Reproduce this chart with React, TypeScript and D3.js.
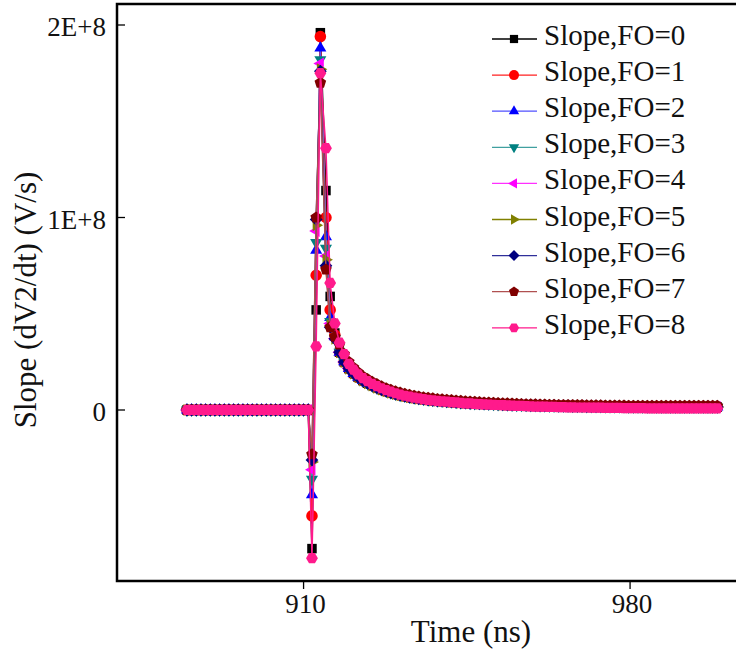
import React from 'react';
import * as d3 from 'd3';

// ---------- data ----------
const seriesNames = [
  'Slope,FO=0', 'Slope,FO=1', 'Slope,FO=2', 'Slope,FO=3', 'Slope,FO=4',
  'Slope,FO=5', 'Slope,FO=6', 'Slope,FO=7', 'Slope,FO=8',
];
const markerColors = ['#000000', '#ff0000', '#0000ff', '#008080', '#ff00ff', '#808000', '#000080', '#800000', '#ff1a8c'];
const lineColors = ['#000000', '#ff2020', '#5050ff', '#40a0a0', '#ff30ff', '#808000', '#30309a', '#b05050', '#ff1a8c'];
const markerKinds = ['square', 'circle', 'triUp', 'triDown', 'triLeft', 'triRight', 'diamond', 'pentagon', 'hexagon'];

// time samples (ns)
const flatTimes = [885, 886, 887, 888, 889, 890, 891, 892, 893, 894, 895, 896, 897, 898, 899, 900, 901, 902, 903, 904, 905, 906, 907, 908, 909, 910, 911];
const flatValues = [0, 0, 0, 0, 0, 0, 0, 0, 0, 0, 0, 0, 0, 0, 0, 0, 0, 0, 0, 0, 0, 0, 0, 0, 0, 0, 0];
const spikeTimes = [911.8, 912.7, 913.6, 914.8, 915.7, 916.7];
// spike values, units of 1e6 V/s
const spikeFO0 = [-72, 52, 196, 114, 59, 40];
const spikeFO1 = [-55, 70, 194, 100, 52, 39];
const spikeFO2 = [-44, 83, 188, 90, 48, 38];
const spikeFO3 = [-36, 87, 182, 84, 46, 37];
const spikeFO4 = [-31, 93, 180, 80, 45, 37];
const spikeFO5 = [-27, 96, 177, 78, 44, 37];
const spikeFO6 = [-26, 99, 176, 75, 43, 37];
const spikeFO7 = [-23, 100, 170, 73, 43, 38];
const spikeFO8 = [-77, 33, 175, 136, 66, 45];
const spikes = [spikeFO0, spikeFO1, spikeFO2, spikeFO3, spikeFO4, spikeFO5, spikeFO6, spikeFO7, spikeFO8];

// decay tail, 1 ns steps starting at 917.7 ns, units of 1e6 V/s
const tailStart = 917.7;
const tailOthers = [30, 25, 21.5, 19, 17, 15.3, 13.9, 12.7, 11.6, 10.6, 9.8, 9.0, 8.3, 7.7, 7.2, 6.7, 6.3, 5.9, 5.6, 5.3, 5.0, 4.8, 4.6, 4.4, 4.2, 4.0, 3.8, 3.7, 3.5, 3.4, 3.3, 3.2, 3.1, 3.0, 2.9, 2.8, 2.7, 2.6, 2.5, 2.5, 2.4, 2.3, 2.3, 2.2, 2.2, 2.1, 2.1, 2.0, 2.0, 2.0, 1.9, 1.9, 1.9, 1.8, 1.8, 1.8, 1.8, 1.7, 1.7, 1.7, 1.7, 1.7, 1.6, 1.6, 1.6, 1.6, 1.6, 1.6, 1.6, 1.5, 1.5, 1.5, 1.5, 1.5, 1.5, 1.5, 1.5, 1.5, 1.5, 1.5, 1.5, 1.5];
const tailMaroon = [34, 29, 25, 22, 19.5, 17.5, 16, 14.6, 13.4, 12.3, 11.3, 10.5, 9.7, 9.0, 8.4, 7.9, 7.4, 7.0, 6.6, 6.3, 6.0, 5.7, 5.5, 5.3, 5.1, 4.9, 4.7, 4.5, 4.4, 4.2, 4.1, 3.9, 3.8, 3.7, 3.6, 3.5, 3.4, 3.3, 3.2, 3.1, 3.0, 2.9, 2.9, 2.8, 2.8, 2.7, 2.7, 2.6, 2.6, 2.6, 2.5, 2.5, 2.5, 2.4, 2.4, 2.4, 2.4, 2.3, 2.3, 2.3, 2.3, 2.3, 2.2, 2.2, 2.2, 2.2, 2.2, 2.2, 2.2, 2.2, 2.2, 2.2, 2.2, 2.2, 2.2, 2.2, 2.2, 2.2, 2.2, 2.2, 2.2, 2.2];
const tailPink = [35, 29, 24, 21, 18.5, 16.5, 15, 13.6, 12.4, 11.3, 10.3, 9.5, 8.7, 8.0, 7.4, 6.9, 6.4, 6.0, 5.6, 5.3, 5.0, 4.7, 4.5, 4.3, 4.1, 3.9, 3.7, 3.5, 3.4, 3.2, 3.1, 2.9, 2.8, 2.7, 2.6, 2.5, 2.4, 2.3, 2.2, 2.1, 2.0, 1.9, 1.8, 1.8, 1.7, 1.6, 1.6, 1.5, 1.5, 1.4, 1.4, 1.3, 1.3, 1.3, 1.2, 1.2, 1.2, 1.1, 1.1, 1.1, 1.1, 1.0, 1.0, 1.0, 1.0, 1.0, 0.9, 0.9, 0.9, 0.9, 0.9, 0.9, 0.9, 0.9, 0.9, 0.9, 0.9, 0.9, 0.9, 0.9, 0.9, 0.9];
const tails = [tailOthers, tailOthers, tailOthers, tailOthers, tailOthers, tailOthers, tailOthers, tailMaroon, tailPink];

const yTicks = [0, 1e8, 2e8];
const yTickLabels = ['0', '1E+8', '2E+8'];
const xTicks = [910, 980];
const xTickLabels = ['910', '980'];

// ---------- layout ----------
const W = 736;
const H = 653;
const left = 117;
const top = 4;
const bottom = 581;
const rightEdge = 790;
const FONT = '"Liberation Serif", "Times New Roman", serif';

const x = d3.scaleLinear().domain([870, 1010]).range([left, 770]);
const y = d3.scaleLinear().domain([0, 2e8]).range([410, 25]);

function polygon(n: number, startDeg: number, R: number): string {
  const pts: string[] = [];
  for (let k = 0; k < n; k++) {
    const a = (startDeg * Math.PI) / 180 + (2 * Math.PI * k) / n;
    pts.push(`${(R * Math.cos(a)).toFixed(2)},${(R * Math.sin(a)).toFixed(2)}`);
  }
  return 'M' + pts.join('L') + 'Z';
}

function markerPath(kind: string, r: number): string {
  switch (kind) {
    case 'square': {
      const s = r * 0.82;
      return `M${-s},${-s}h${2 * s}v${2 * s}h${-2 * s}Z`;
    }
    case 'circle':
      return d3.symbol(d3.symbolCircle, Math.PI * r * r)() as string;
    case 'triUp':
      return polygon(3, -90, r * 1.2);
    case 'triDown':
      return polygon(3, 90, r * 1.2);
    case 'triLeft':
      return polygon(3, 180, r * 1.2);
    case 'triRight':
      return polygon(3, 0, r * 1.2);
    case 'diamond':
      return polygon(4, -90, r * 1.1);
    case 'pentagon':
      return polygon(5, -90, r * 1.05);
    case 'hexagon':
    default:
      return polygon(6, 0, r * 1.02);
  }
}

type Pt = { t: number; v: number };

function buildSeries(i: number): Pt[] {
  const pts: Pt[] = [];
  flatTimes.forEach((t, k) => pts.push({ t, v: flatValues[k] }));
  spikeTimes.forEach((t, k) => pts.push({ t, v: spikes[i][k] * 1e6 }));
  tails[i].forEach((v, k) => pts.push({ t: tailStart + k, v: v * 1e6 }));
  return pts;
}

export default function App() {
  const allSeries = seriesNames.map((_, i) => buildSeries(i));
  const line = d3
    .line<Pt>()
    .x((d) => x(d.t))
    .y((d) => y(d.v));

  return (
    <svg
      width={W}
      height={H}
      viewBox={`0 0 ${W} ${H}`}
      style={{ position: 'absolute', left: 0, top: 0, background: '#ffffff' }}
    >
      <defs>
        <clipPath id="plotClip">
          <rect x={left} y={top} width={rightEdge - left} height={bottom - top} />
        </clipPath>
      </defs>
      <rect x={0} y={0} width={W} height={H} fill="#ffffff" />

      {/* data */}
      <g clipPath="url(#plotClip)">
        {allSeries.map((pts, i) => {
          const mk = markerPath(markerKinds[i], 5.8);
          return (
            <g key={seriesNames[i]}>
              <path d={line(pts) || ''} fill="none" stroke={lineColors[i]} strokeWidth={1.5} />
              {pts.map((d, k) => (
                <path
                  key={k}
                  d={mk}
                  transform={`translate(${x(d.t).toFixed(2)},${y(d.v).toFixed(2)})`}
                  fill={markerColors[i]}
                />
              ))}
            </g>
          );
        })}
      </g>

      {/* frame */}
      <path
        d={`M${rightEdge},${top}H${left}V${bottom}H${rightEdge}`}
        fill="none"
        stroke="#000"
        strokeWidth={2.5}
      />

      {/* y ticks (inward) */}
      {yTicks.map((v, k) => (
        <g key={'yt' + k}>
          <line x1={left} x2={left + 8} y1={y(v)} y2={y(v)} stroke="#000" strokeWidth={1.3} />
          <text
            x={106}
            y={y(v) + 11}
            textAnchor="end"
            fontFamily={FONT}
            fontSize={27}
            fill="#111"
          >
            {yTickLabels[k]}
          </text>
        </g>
      ))}

      {/* x ticks (outward) */}
      {xTicks.map((v, k) => (
        <g key={'xt' + k}>
          <line x1={x(v)} x2={x(v)} y1={bottom} y2={bottom + 8} stroke="#000" strokeWidth={1.3} />
          <text
            x={x(v) + 2}
            y={613}
            textAnchor="middle"
            fontFamily={FONT}
            fontSize={27}
            fill="#111"
          >
            {xTickLabels[k]}
          </text>
        </g>
      ))}

      {/* axis titles */}
      <text x={471} y={642} textAnchor="middle" fontFamily={FONT} fontSize={31} fill="#111">
        Time (ns)
      </text>
      <text
        transform="translate(36,300) rotate(-90)"
        textAnchor="middle"
        fontFamily={FONT}
        fontSize={31}
        fill="#111"
      >
        Slope (dV2/dt) (V/s)
      </text>

      {/* legend */}
      {seriesNames.map((name, i) => {
        const ly = 39 + i * 36.1;
        return (
          <g key={'lg' + i}>
            <line x1={492} x2={537} y1={ly} y2={ly} stroke={lineColors[i]} strokeWidth={1.3} />
            <path d={markerPath(markerKinds[i], 5)} transform={`translate(514,${ly})`} fill={markerColors[i]} />
            <text x={544} y={ly + 6} fontFamily={FONT} fontSize={29} fill="#111">
              {name}
            </text>
          </g>
        );
      })}
    </svg>
  );
}
